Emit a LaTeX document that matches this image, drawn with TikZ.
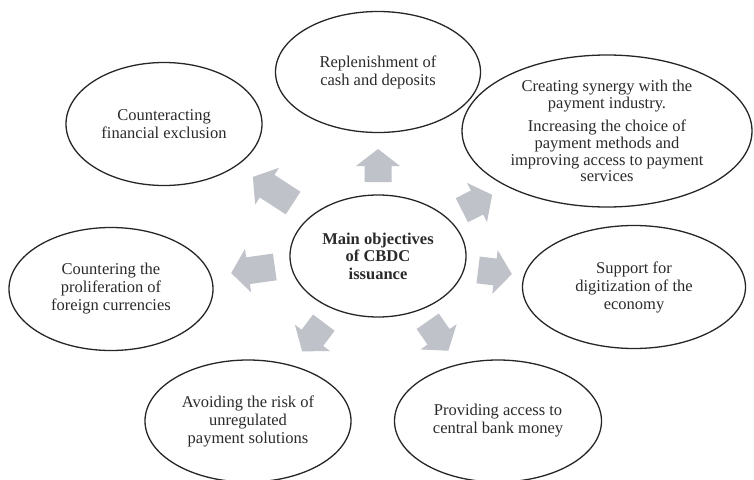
\documentclass[tikz,border=0pt]{standalone}
\usepackage{fontspec}
\setmainfont{Liberation Serif}
\usetikzlibrary{shapes.geometric}
\definecolor{arrowgray}{HTML}{BFC2C9}
\definecolor{linegray}{HTML}{262626}
\definecolor{textgray}{HTML}{2A2A2A}
\tikzset{
  goal/.style={ellipse, draw=linegray, line width=1.3pt, inner sep=0pt, align=center,
    text=textgray, font=\fontsize{16.5}{18}\selectfont},
  push/.style={fill=arrowgray},
}
% block arrow: centre x, centre y, direction, length
\newcommand{\blockarrow}[4]{%
  \fill[push, shift={(#1,#2)}, rotate=#3]
    (-#4/2,-13.5) -- (#4/2-17,-13.5) -- (#4/2-17,-22) -- (#4/2,0)
    -- (#4/2-17,22) -- (#4/2-17,13.5) -- (-#4/2,13.5) -- cycle;}

\begin{document}
\begin{tikzpicture}[x=1pt,y=-1pt]
  \useasboundingbox (0,0) rectangle (754,479);

  \node[goal, minimum width=176pt, minimum height=122pt,
    font=\fontsize{16.5}{17.5}\selectfont\bfseries] (main) at (378,256)
    {Main objectives\\of CBDC\\issuance};

  \node[goal, minimum width=205pt, minimum height=121pt] (cash) at (378,72)
    {Replenishment of\\cash and deposits};
  \node[goal, minimum width=290pt, minimum height=152pt,
    font=\fontsize{16.5}{16.7}\selectfont] (synergy) at (607,131)
    {Creating synergy with the\\payment industry.\\[7pt]Increasing the choice of\\payment methods and\\improving access to payment\\services};
  \node[goal, minimum width=196pt, minimum height=123pt] (exclusion) at (164,124)
    {Counteracting\\financial exclusion};
  \node[goal, minimum width=204pt, minimum height=123pt] (foreign) at (111,289)
    {Countering the\\proliferation of\\foreign currencies};
  \node[goal, minimum width=223pt, minimum height=123pt] (digital) at (634,287)
    {Support for\\digitization of the\\economy};
  \node[goal, minimum width=206pt, minimum height=122pt] (risk) at (248,421)
    {Avoiding the risk of\\unregulated\\payment solutions};
  \node[goal, minimum width=207pt, minimum height=122pt] (access) at (498,421)
    {Providing access to\\central bank money};

  % block arrows round the centre
  \blockarrow{378}{165.5}{90}{33}
  \blockarrow{273}{190}{147}{48}
  \blockarrow{477}{202.5}{27}{34}
  \blockarrow{253}{270}{188}{44}
  \blockarrow{495}{272}{-7}{34}
  \blockarrow{313}{337}{-127}{36}
  \blockarrow{438}{336}{-55}{36}
\end{tikzpicture}
\end{document}
